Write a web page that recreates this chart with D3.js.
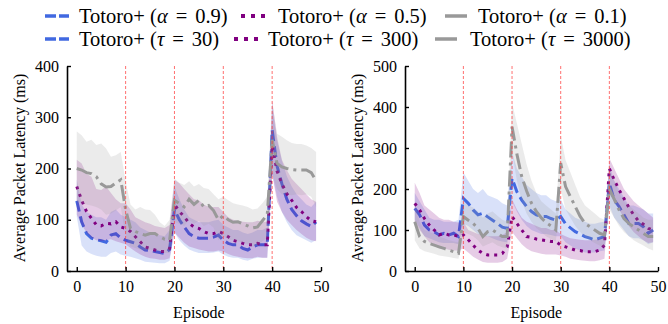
<!DOCTYPE html>
<html>
<head>
<meta charset="utf-8">
<script src="https://cdn.jsdelivr.net/npm/d3@7"></script>
<style>
  body { margin: 0; background: #fff; }
</style>
</head>
<body>
<svg id="chart" width="668" height="324" font-family="Liberation Serif"></svg>
<script>
// episodes 0..49
const episodes = d3.range(0, 50);
const resetEpisodes = [10, 20, 30, 40];
const xTicks = [0, 10, 20, 30, 40, 50];
const yTicksLeft = [0, 100, 200, 300, 400];
const yTicksRight = [0, 100, 200, 300, 400, 500];

// left panel: alpha sweep
const alpha09 = [137,96,73,64,61,59,56,70,73,64, 60,57,54,47,41,40,38,36,34,42, 120,100,86,73,67,64,64,64,66,70, 60,54,51,51,44,41,47,51,51,51, 275,205,170,140,120,108,98,92,87,96];
const alpha09Hi = [178,130,115,110,105,105,100,115,120,110, 105,100,95,85,80,75,72,70,68,80, 165,140,120,105,100,95,95,95,98,100, 90,85,80,80,75,72,75,80,80,85, 320,255,215,185,165,150,140,130,125,135];
const alpha09Lo = [106,50,38,33,30,28,28,35,38,32, 30,28,25,22,18,17,16,15,15,20, 75,60,50,42,38,35,35,35,36,38, 32,28,26,26,22,20,24,26,26,26, 190,145,115,95,80,70,65,60,55,60];

const alpha05 = [165,138,116,103,90,88,93,92,96,86, 83,77,67,57,47,44,41,38,38,44, 130,116,106,93,86,83,77,73,73,77, 73,67,60,57,54,51,51,54,51,51, 245,195,170,151,138,124,116,106,98,96];
const alpha05Hi = [217,210,190,184,160,158,165,152,140,132, 132,120,105,100,95,92,88,86,84,90, 178,171,160,150,140,138,130,125,125,125, 115,105,100,98,96,95,95,98,96,96, 334,262,217,197,180,170,160,150,140,135];
const alpha05Lo = [110,90,75,65,60,58,60,62,58,55, 52,45,38,32,28,25,24,22,22,25, 75,65,55,48,45,42,40,38,38,40, 38,33,30,28,26,25,25,28,26,26, 190,135,115,100,90,80,72,65,60,58];

const alpha01 = [200,197,192,190,184,170,164,165,172,178, 120,83,77,73,70,73,73,67,62,60, 138,132,125,140,130,138,125,128,118,100, 108,100,95,96,92,88,84,86,98,110, 256,210,203,200,198,197,197,197,192,176];
const alpha01Hi = [272,265,252,256,246,249,239,223,226,232, 175,130,120,125,120,119,110,95,88,100, 180,172,168,175,165,170,162,160,150,140, 145,138,132,130,128,125,120,122,132,145, 330,268,262,255,250,248,248,245,240,232];
const alpha01Lo = [135,132,130,128,125,120,110,112,118,125, 70,48,45,42,40,42,40,38,35,35, 95,92,88,100,92,98,88,92,85,60, 68,62,60,58,55,52,48,50,58,65, 190,160,150,150,148,150,148,150,145,125];

// right panel: tau sweep
const tau30 = [153,137,112,100,96,88,92,88,92,84, 177,165,149,137,141,132,124,116,107,104, 226,193,173,157,145,137,133,133,128,124, 133,115,105,96,90,84,80,76,80,84, 214,173,157,137,116,116,116,108,92,100];
const tau30Hi = [190,170,150,130,125,125,120,120,120,125, 240,220,200,190,200,185,180,175,165,160, 290,250,230,210,200,190,185,185,175,170, 175,150,140,130,125,120,115,115,118,120, 260,220,200,180,160,160,155,150,140,140];
const tau30Lo = [125,105,85,80,75,70,68,68,68,65, 115,110,100,90,85,85,80,75,72,70, 170,145,125,110,100,95,90,90,88,85, 85,70,62,55,50,45,45,45,48,50, 160,130,115,100,85,80,80,75,65,70];

const tau300 = [165,149,128,112,100,88,92,88,88,84, 88,76,63,51,43,39,39,39,43,59, 133,116,100,84,82,78,76,74,72,72, 63,59,55,51,50,47,47,47,51,63, 250,222,198,177,155,137,122,114,104,100];
const tau300Hi = [215,190,160,150,140,130,125,125,120,118, 120,100,95,90,88,85,85,85,88,95, 175,150,130,120,115,110,105,105,100,100, 90,85,80,78,76,75,75,76,78,85, 275,250,225,200,185,170,160,150,140,130];
const tau300Lo = [120,100,85,70,62,55,55,52,50,50, 55,45,35,28,22,20,20,20,22,30, 95,80,65,55,48,45,42,40,40,40, 38,35,30,28,26,25,24,24,26,30, 200,175,150,130,110,95,85,75,68,70];

const tau3000 = [120,84,72,67,63,59,55,51,47,43, 133,124,116,104,84,96,100,92,84,84, 352,285,230,195,165,145,130,118,110,100, 263,206,181,157,133,116,108,100,92,88, 200,175,149,128,116,108,100,92,84,84];
const tau3000Hi = [165,120,100,95,90,85,80,75,72,70, 170,160,155,145,130,140,145,135,125,120, 410,360,310,260,220,190,170,160,150,140, 330,270,240,210,180,160,150,140,130,125, 250,220,190,170,160,150,140,130,125,125];
const tau3000Lo = [75,55,48,45,42,38,36,34,32,30, 95,90,85,75,60,65,70,62,58,55, 290,220,170,140,120,105,95,85,78,72, 200,150,130,110,95,82,75,68,62,58, 150,130,110,95,85,75,68,62,55,50];

const styles = {
  blue:   { color: "#4169e1", dash: "11,5", legendDash: "11,3" },
  purple: { color: "#800080", dash: "3,5", legendDash: "4,6" },
  gray:   { color: "#999999", dash: "16,5,3,5", legendDash: null }
};
const FONT = "Liberation Serif";

const svg = d3.select("#chart");

function drawPanel(opts) {
  const x = d3.scaleLinear().domain([-2, 50]).range([opts.left, opts.right]);
  const y = d3.scaleLinear().domain([0, opts.yMax]).range([271, 66]);
  const g = svg.append("g");

  opts.series.forEach(s => {
    const st = styles[s.style];
    const area = d3.area()
      .x((d, i) => x(episodes[i]))
      .y0((d, i) => y(s.lo[i]))
      .y1((d, i) => y(s.hi[i]));
    g.append("path")
      .attr("d", area(s.mean))
      .attr("fill", st.color)
      .attr("fill-opacity", 0.2);
    const line = d3.line()
      .x((d, i) => x(episodes[i]))
      .y(d => y(d));
    g.append("path")
      .attr("d", line(s.mean))
      .attr("fill", "none")
      .attr("stroke", st.color)
      .attr("stroke-width", 3)
      .attr("stroke-dasharray", st.dash);
  });

  // episode boundaries
  g.selectAll("line.reset")
    .data(resetEpisodes)
    .enter()
    .append("line")
    .attr("x1", d => x(d)).attr("x2", d => x(d))
    .attr("y1", y(opts.yMax)).attr("y2", y(0))
    .attr("stroke", "#ff3333")
    .attr("stroke-opacity", 0.7)
    .attr("stroke-width", 1)
    .attr("stroke-dasharray", "3,2");

  // axes
  const xAxis = d3.axisBottom(x).tickValues(xTicks).tickSizeInner(-4).tickSizeOuter(0).tickPadding(10);
  const gx = g.append("g").attr("transform", "translate(0,271)").call(xAxis);
  const yAxis = d3.axisLeft(y).tickValues(opts.yTicks).tickSizeInner(-4).tickSizeOuter(0).tickPadding(8);
  const gy = g.append("g").attr("transform", "translate(" + opts.left + ",0)").call(yAxis);
  [gx, gy].forEach(a => {
    a.attr("font-family", FONT).attr("font-size", 16);
    a.select(".domain").attr("stroke", "#000").attr("stroke-width", 1.6);
    a.selectAll(".tick line").attr("stroke", "#000").attr("stroke-width", 1.4);
    a.selectAll(".tick text").attr("fill", "#000");
  });

  g.append("text")
    .attr("x", (x(0) + x(50)) / 2)
    .attr("y", 318)
    .attr("text-anchor", "middle")
    .attr("font-family", FONT)
    .attr("font-size", 16)
    .text("Episode");

  g.append("text")
    .attr("transform", "translate(" + opts.yLabelX + ",168) rotate(-90)")
    .attr("text-anchor", "middle")
    .attr("font-family", FONT)
    .attr("font-size", 16)
    .text("Average Packet Latency (ms)");
}

drawPanel({
  left: 67, right: 321, yMax: 400, yTicks: yTicksLeft, yLabelX: 25,
  series: [
    { style: "blue", mean: alpha09, hi: alpha09Hi, lo: alpha09Lo },
    { style: "purple", mean: alpha05, hi: alpha05Hi, lo: alpha05Lo },
    { style: "gray", mean: alpha01, hi: alpha01Hi, lo: alpha01Lo }
  ]
});

drawPanel({
  left: 405, right: 658, yMax: 500, yTicks: yTicksRight, yLabelX: 363,
  series: [
    { style: "blue", mean: tau30, hi: tau30Hi, lo: tau30Lo },
    { style: "purple", mean: tau300, hi: tau300Hi, lo: tau300Lo },
    { style: "gray", mean: tau3000, hi: tau3000Hi, lo: tau3000Lo }
  ]
});

// legend: one row per panel, each row laid out on its own
const legendRows = [
  { base: 23, sample: [45, 241, 445], text: [79, 278, 478],
    items: [["blue", "α", "0.9"], ["purple", "α", "0.5"], ["gray", "α", "0.1"]] },
  { base: 46, sample: [45, 234, 435], text: [79, 268, 470],
    items: [["blue", "τ", "30"], ["purple", "τ", "300"], ["gray", "τ", "3000"]] }
];

const lg = svg.append("g");
legendRows.forEach(row => {
  row.items.forEach((it, i) => {
    const st = styles[it[0]];
    const cy = row.base - 7;
    lg.append("line")
      .attr("x1", row.sample[i])
      .attr("x2", row.sample[i] + (it[0] === "gray" ? 22 : 24))
      .attr("y1", cy).attr("y2", cy)
      .attr("stroke", st.color)
      .attr("stroke-width", it[0] === "purple" ? 4 : 3.5)
      .attr("stroke-dasharray", st.legendDash);
    const t = lg.append("text")
      .attr("x", row.text[i])
      .attr("y", row.base)
      .attr("font-family", FONT)
      .attr("font-size", 20.5);
    t.append("tspan").text("Totoro+ (");
    t.append("tspan").attr("font-style", "italic").text(it[1]);
    t.append("tspan").attr("dx", 8).text("=");
    t.append("tspan").attr("dx", 8).text(it[2] + ")");
  });
});
</script>
</body>
</html>
